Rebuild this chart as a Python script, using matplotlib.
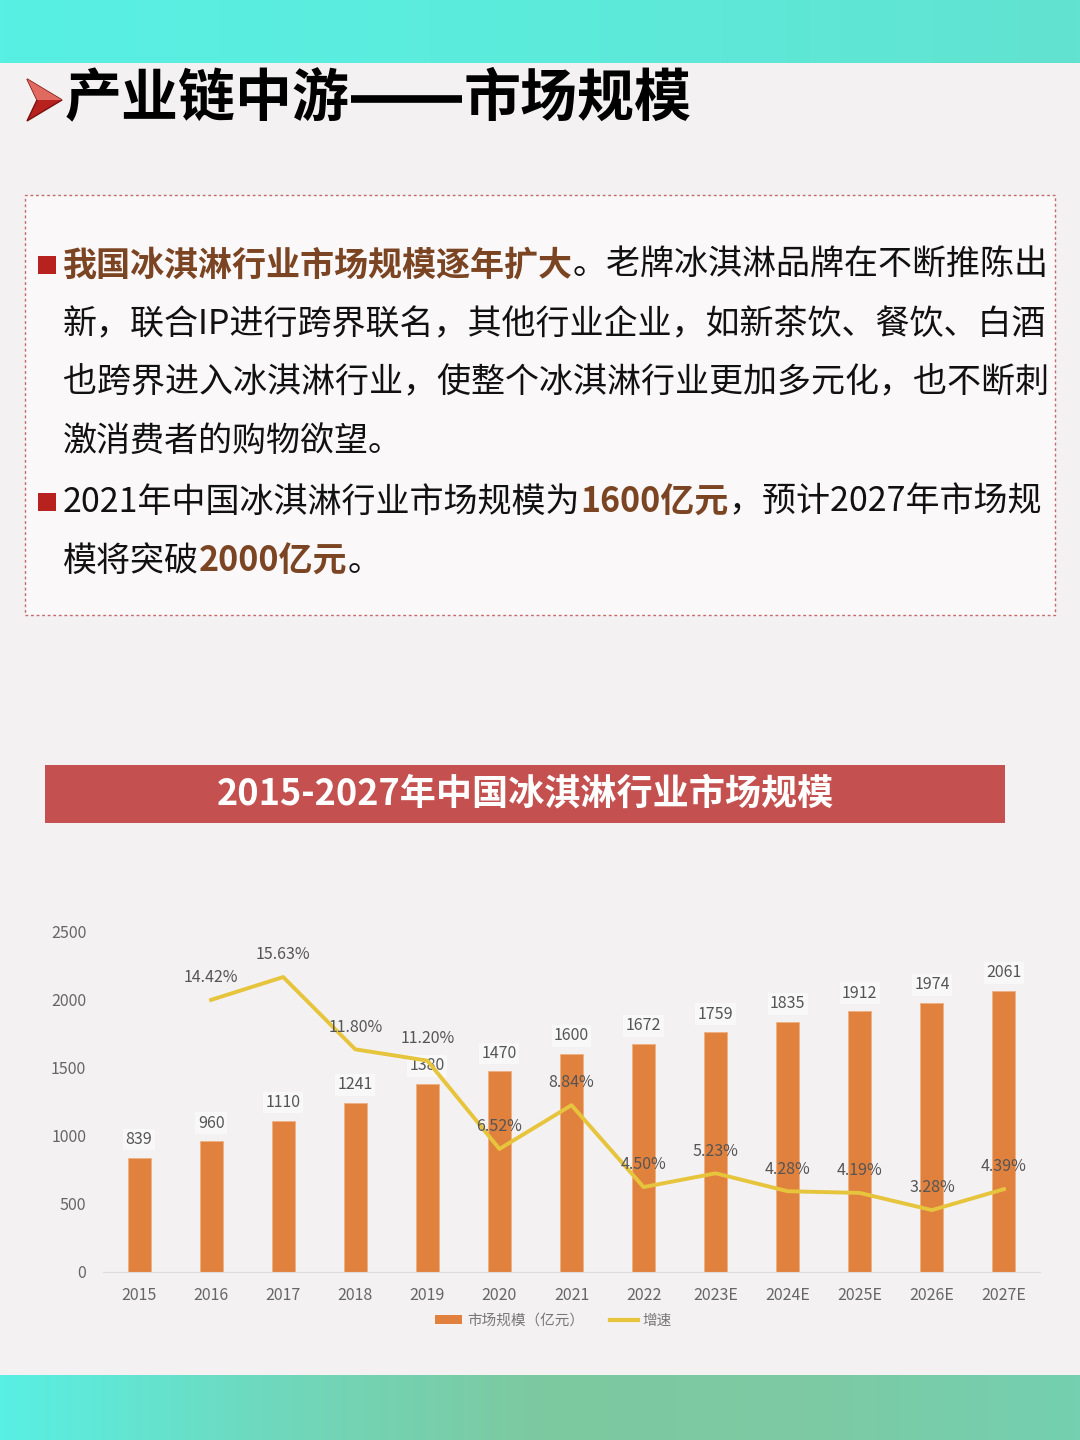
import matplotlib
matplotlib.use('Agg')
import matplotlib.pyplot as plt
import numpy as np
from matplotlib.patches import Rectangle, Polygon
from matplotlib.lines import Line2D
from matplotlib.colors import LinearSegmentedColormap

plt.rcParams['font.family'] = ['Noto Sans CJK SC', 'DejaVu Sans']

# ---------------- data ----------------
years = ['2015', '2016', '2017', '2018', '2019', '2020', '2021', '2022',
         '2023E', '2024E', '2025E', '2026E', '2027E']
scale = [839, 960, 1110, 1241, 1380, 1470, 1600, 1672, 1759, 1835, 1912, 1974, 2061]
growth = [np.nan, 14.42, 15.63, 11.80, 11.20, 6.52, 8.84, 4.50, 5.23, 4.28, 4.19, 3.28, 4.39]

title_left = '产业链中游'
title_right = '市场规模'
chart_title = '2015-2027年中国冰淇淋行业市场规模'
legend_labels = ['市场规模（亿元）', '增速']

# text lines: list of (text, bold?) segments
body_lines = [
    [('我国冰淇淋行业市场规模逐年扩大', True), ('。老牌冰淇淋品牌在不断推陈出', False)],
    [('新，联合IP进行跨界联名，其他行业企业，如新茶饮、餐饮、白酒', False)],
    [('也跨界进入冰淇淋行业，使整个冰淇淋行业更加多元化，也不断刺', False)],
    [('激消费者的购物欲望。', False)],
    [('2021年中国冰淇淋行业市场规模为', False), ('1600亿元', True), ('，预计2027年市场规', False)],
    [('模将突破', False), ('2000亿元', True), ('。', False)],
]
line_y = [265, 325, 383, 441, 502, 561]
bullet_lines = [0, 4]

W, H = 1080, 1440
BG = '#f3f1f1'
BROWN = '#7b4523'
ORANGE = '#e0813e'
YELLOW = '#e6c43c'
GREY = '#666666'


def fx(x):
    return x / W


def fy(y):
    return 1 - y / H


fig = plt.figure(figsize=(10.8, 14.4), dpi=100, facecolor=BG)
renderer = fig.canvas.get_renderer()

# ---- teal bands ----
def band(y0, y1, colors):
    bax = fig.add_axes([0, fy(y1), 1, (y1 - y0) / H])
    cmap = LinearSegmentedColormap.from_list('b', colors)
    bax.imshow(np.linspace(0, 1, 256)[None, :], aspect='auto', cmap=cmap,
               extent=[0, 1, 0, 1])
    bax.set_axis_off()

band(0, 63, ['#58f0e4', '#5cebdb', '#62e2d0'])
band(1375, 1440, ['#58f0e4', '#6fd8bc', '#7dc9a0', '#7ccaa4', '#74d0b0'])

# ---- page title ----
fig.patches.append(Polygon([(fx(27), fy(79)), (fx(62), fy(100)), (fx(27), fy(121)), (fx(37), fy(100))],
                           closed=True, transform=fig.transFigure, facecolor='#b8221e',
                           edgecolor='#7a1010', lw=1))
fig.patches.append(Polygon([(fx(27), fy(79)), (fx(62), fy(100)), (fx(37), fy(100))],
                           closed=True, transform=fig.transFigure, facecolor='#e06a60',
                           edgecolor='none'))
t1 = fig.text(fx(65), fy(99), title_left, fontsize=41, fontweight='bold',
              color='black', ha='left', va='center')
x_end = 65 + t1.get_window_extent(renderer).width
fig.add_artist(Line2D([fx(x_end + 1), fx(x_end + 112)], [fy(99), fy(99)],
                      transform=fig.transFigure, color='black', lw=5.5,
                      solid_capstyle='butt'))
fig.text(fx(x_end + 114), fy(99), title_right, fontsize=41, fontweight='bold',
         color='black', ha='left', va='center')

# ---- text box ----
fig.patches.append(Rectangle((fx(25), fy(615)), (1055 - 25) / W, (615 - 195) / H,
                             transform=fig.transFigure, facecolor='#faf8f8',
                             edgecolor='#c46a6a', lw=1.0, ls=(0, (2, 2))))

for i, segs in enumerate(body_lines):
    x = 63
    for txt, bold in segs:
        t = fig.text(fx(x), fy(line_y[i]), txt, fontsize=24.5,
                     fontweight='bold' if bold else 'normal',
                     color=BROWN if bold else '#111111', ha='left', va='center')
        x += t.get_window_extent(renderer).width
    if i in bullet_lines:
        fig.patches.append(Rectangle((fx(38), fy(line_y[i] + 9)), 18 / W, 18 / H,
                                     transform=fig.transFigure,
                                     facecolor='#b8221e', edgecolor='none'))

# ---- chart title band ----
fig.patches.append(Rectangle((fx(45), fy(823)), (1005 - 45) / W, (823 - 765) / H,
                             transform=fig.transFigure, facecolor='#c4504f',
                             edgecolor='none'))
fig.text(fx(525), fy(794), chart_title, fontsize=26, fontweight='bold',
         color='white', ha='center', va='center')

# ---- chart ----
ax = fig.add_axes([fx(103), fy(1272), (1040 - 103) / W, (1272 - 931) / H])
ax.set_facecolor('none')
x = np.arange(len(years))
ax.bar(x, scale, width=0.32, color=ORANGE, edgecolor='#f0b080', lw=0.6, zorder=2)
ax.set_xlim(-0.5, len(years) - 0.5)
ax.set_ylim(0, 2500)
ax.set_yticks(range(0, 2501, 500))
ax.set_xticks(x)
ax.set_xticklabels(years)
ax.tick_params(axis='both', length=0, labelsize=11.5, labelcolor=GREY)
ax.tick_params(axis='y', pad=12)
ax.tick_params(axis='x', pad=11)
for s in ['top', 'right', 'left']:
    ax.spines[s].set_visible(False)
ax.spines['bottom'].set_color('#dcdcdc')

for xi, v in zip(x, scale):
    ax.annotate(str(v), (xi, v), xytext=(0, 13), textcoords='offset points',
                ha='center', va='center', fontsize=11.5, color='#555555', zorder=4,
                bbox=dict(boxstyle='square,pad=0.15', fc='white', ec='none', alpha=0.5))

ax2 = ax.twinx()
ax2.set_ylim(0, 18.07)
ax2.plot(x, growth, color=YELLOW, lw=2.8, zorder=3)
ax2.set_axis_off()
for xi, g in zip(x, growth):
    if np.isnan(g):
        continue
    ax2.annotate(f'{g:.2f}%', (xi, g), xytext=(0, 16), textcoords='offset points',
                 ha='center', va='center', fontsize=11.5, color='#555555', zorder=4)

handles = [Rectangle((0, 0), 1, 1, facecolor=ORANGE, edgecolor='none'),
           Line2D([0], [0], color=YELLOW, lw=3)]
leg = fig.legend(handles, legend_labels, loc='center', bbox_to_anchor=(fx(553), fy(1321)),
                 ncol=2, frameon=False, fontsize=10.5, handlelength=1.9,
                 handleheight=0.55, handletextpad=0.3, columnspacing=1.8)
for t in leg.get_texts():
    t.set_color('#777777')

fig.savefig('out.png', dpi=100, facecolor=BG)
